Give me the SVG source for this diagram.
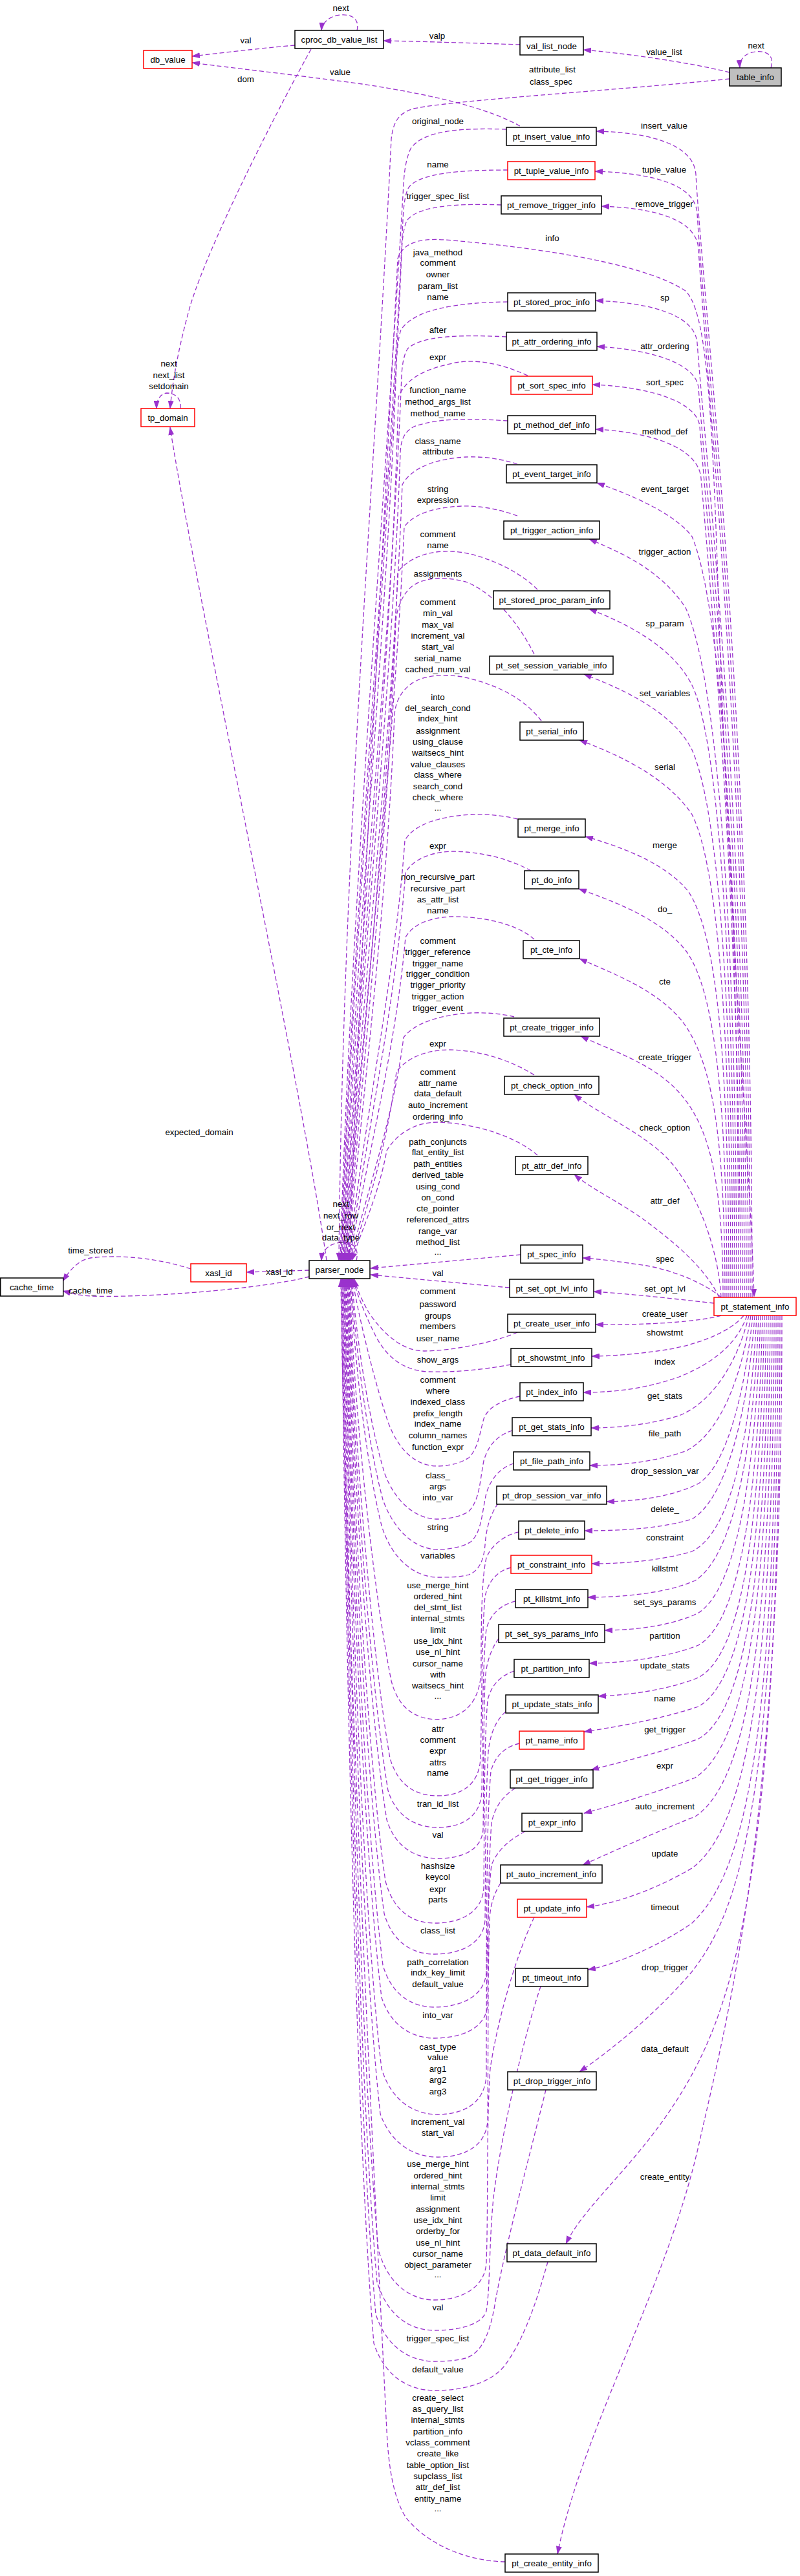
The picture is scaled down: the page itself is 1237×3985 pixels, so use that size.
<svg xmlns="http://www.w3.org/2000/svg" width="1237" height="3985" viewBox="0 0 1237 3985">
<style>
text{font-family:"Liberation Sans",Arial,Helvetica,sans-serif;font-size:13.33px;fill:#000}
.n text{text-anchor:middle}
.n rect{fill:#fff;stroke:#000;stroke-width:1.5}
.n.r rect{stroke:#ff0000}
.n.g rect{fill:#bfbfbf}
.e path{fill:none;stroke:#9a32cd;stroke-width:1.3;stroke-dasharray:7 4;marker-end:url(#a)}
.lb text{text-anchor:middle}
</style>
<defs>
<marker id="a" viewBox="0 0 13 9" refX="12" refY="4.5" markerWidth="13" markerHeight="9" markerUnits="userSpaceOnUse" orient="auto"><path d="M0,0L13,4.5L0,9z" fill="#9a32cd"/></marker>
</defs>
<rect width="1237" height="3985" fill="#fff"/>
<g class="e" id="edges">
<path d="M1192,105 C1198,85 1185,78 1168,80 C1152,82 1143,92 1144,105"/>
<path d="M1128,112 C1060,95 960,82 902,77"/>
<path d="M804,69 C740,67 650,64 593,63"/>
<path d="M552,47 C556,30 545,22 528,23 C510,24 498,35 497,47"/>
<path d="M456,70 C400,75 340,82 297,87"/>
<path d="M481,76 C440,150 330,360 295,470 C278,530 268,580 263,632"/>
<path d="M279,632 C281,618 272,608 258,608 C248,609 242,618 242,632"/>
<path d="M505,1950 C470,1700 300,900 263,661"/>
<path d="M551,1950 C556,1930 545,1922 530,1922 C512,1922 498,1932 497,1950"/>
<path d="M804,195 C760,170 680,148 560,130 C450,115 350,104 297,97"/>
<path d="M1128,122 C950,140 700,155 640,168 C615,175 608,190 605,215 C580,735 530,1300 524,1950"/>
<path d="M540,1950 C560,1400 600,700 615,400 C625,370 660,368 700,372 C850,385 1000,410 1060,450 C1090,480 1100,600 1110,900 C1125,1400 1160,1800 1166,2006"/>
<path d="M783,200 C720,198 655,200 635,230 C628,245 625,265 624,285 C600,700 540,1450 526,1950"/>
<path d="M785,263 C730,263 650,265 632,290 C626,300 624,320 623,340 C605,750 543,1450 527,1950"/>
<path d="M775,317 C720,315 650,316 630,340 C624,350 622,370 621,390 C605,800 545,1450 528,1950"/>
<path d="M785,467 C700,468 640,480 620,510 C615,525 614,545 613,560 C600,950 547,1500 529,1950"/>
<path d="M783,521 C720,518 650,518 630,540 C624,550 622,565 621,580 C605,1000 549,1500 530,1950"/>
<path d="M816,581 C770,560 730,555 700,562 C650,572 625,590 616,615 C605,1050 551,1550 531,1950"/>
<path d="M785,651 C740,648 680,645 640,660 C625,668 620,680 619,700 C605,1100 553,1550 532,1950"/>
<path d="M800,718 C770,708 740,706 720,707 C670,710 635,725 622,750 C607,1150 555,1580 533,1950"/>
<path d="M800,798 C770,787 740,782 713,783 C670,785 640,795 625,815 C608,1200 557,1600 534,1950"/>
<path d="M831,912 C800,880 740,855 700,853 C660,851 630,865 615,885 C600,1250 559,1620 535,1950"/>
<path d="M826,1012 C800,960 760,915 720,900 C690,892 660,892 640,905 C625,915 615,935 612,960 C600,1300 561,1650 536,1950"/>
<path d="M837,1115 C810,1080 770,1060 720,1048 C690,1042 660,1044 640,1055 C620,1068 612,1085 610,1105 C598,1400 563,1680 537,1950"/>
<path d="M800,1267 C780,1262 755,1259 728,1260 C680,1263 640,1275 626,1300 C612,1500 566,1720 538,1950"/>
<path d="M821,1347 C790,1330 750,1318 700,1317 C665,1318 638,1330 627,1350 C612,1550 568,1750 539,1950"/>
<path d="M826,1453 C800,1430 750,1418 700,1418 C665,1419 638,1430 627,1450 C612,1620 570,1780 540,1950"/>
<path d="M795,1573 C775,1568 750,1566 728,1567 C680,1570 640,1583 624,1605 C610,1720 572,1830 541,1950"/>
<path d="M826,1663 C790,1640 740,1624 692,1624 C655,1625 628,1638 613,1658 C600,1760 574,1850 542,1950"/>
<path d="M831,1787 C800,1760 740,1738 677,1736 C640,1736 613,1755 598,1780 C585,1850 560,1900 544,1950"/>
<path d="M805,1941 L573,1962"/>
<path d="M788,1992 L573,1972"/>
<path d="M800,2061 C770,2075 700,2090 656,2090 C620,2090 590,2060 570,2030 C560,2012 552,1995 548,1979"/>
<path d="M790,2111 C740,2120 700,2123 662,2122 C620,2120 595,2095 580,2065 C565,2035 553,2005 546,1979"/>
<path d="M804,2160 C780,2165 755,2175 748,2195 C742,2215 740,2240 725,2255 C710,2265 690,2268 677,2268 C640,2268 615,2240 600,2200 C580,2140 555,2040 545,1979"/>
<path d="M792,2213 C770,2220 755,2235 748,2260 C742,2290 742,2320 725,2338 C712,2347 690,2350 677,2350 C640,2350 610,2320 595,2280 C570,2200 550,2060 544,1979"/>
<path d="M794,2264 C775,2270 760,2285 752,2310 C745,2340 745,2370 728,2385 C715,2394 692,2397 677,2397 C640,2397 608,2365 592,2320 C568,2230 548,2070 543,1979"/>
<path d="M770,2326 C760,2340 752,2360 750,2390 C748,2415 740,2430 725,2436 C712,2440 692,2440 677,2440 C640,2440 605,2410 590,2360 C565,2260 546,2080 542,1979"/>
<path d="M802,2370 C780,2375 760,2390 752,2410 C745,2440 744,2500 744,2580 C744,2630 720,2658 677,2660 C640,2660 615,2640 605,2600 C575,2450 545,2150 541,1979"/>
<path d="M790,2425 C770,2430 755,2445 750,2470 C745,2520 745,2650 743,2720 C741,2760 715,2778 677,2778 C640,2778 615,2760 603,2720 C575,2560 545,2200 540,1979"/>
<path d="M797,2477 C775,2482 758,2497 752,2520 C746,2570 746,2700 745,2770 C744,2810 715,2827 677,2827 C640,2827 612,2808 600,2770 C572,2600 544,2220 539,1979"/>
<path d="M771,2535 C760,2550 752,2570 750,2600 C747,2680 748,2780 747,2830 C745,2862 715,2875 677,2875 C640,2875 610,2855 598,2815 C570,2640 543,2240 538,1979"/>
<path d="M795,2585 C775,2592 760,2605 754,2630 C748,2700 749,2850 748,2920 C746,2960 710,2975 672,2975 C636,2975 608,2955 596,2910 C568,2720 542,2260 537,1979"/>
<path d="M782,2648 C768,2660 758,2680 755,2710 C750,2800 751,2900 750,2970 C748,3008 710,3023 672,3023 C636,3023 606,3003 594,2960 C566,2760 541,2280 536,1979"/>
<path d="M803,2697 C782,2702 766,2715 759,2740 C752,2820 753,2960 752,3050 C750,3090 710,3105 672,3105 C636,3105 605,3085 592,3040 C564,2820 540,2300 535,1979"/>
<path d="M797,2766 C778,2778 765,2795 760,2820 C754,2900 755,3020 754,3100 C752,3140 710,3153 672,3153 C636,3153 604,3133 590,3090 C562,2860 539,2320 534,1979"/>
<path d="M812,2833 C790,2845 770,2860 760,2885 C752,2950 752,3100 752,3210 C750,3255 715,3271 677,3271 C640,3271 605,3250 590,3200 C560,2950 538,2340 533,1979"/>
<path d="M774,2913 C765,2928 758,2945 757,2970 C754,3050 755,3200 754,3280 C752,3322 715,3337 677,3337 C640,3337 604,3316 588,3270 C558,3000 537,2360 532,1979"/>
<path d="M826,2966 C800,3020 770,3120 758,3200 C752,3280 755,3420 752,3500 C750,3540 712,3558 672,3558 C636,3558 600,3535 585,3480 C555,3150 536,2380 531,1979"/>
<path d="M836,3073 C810,3150 775,3300 763,3400 C756,3470 758,3540 752,3575 C745,3598 705,3605 672,3605 C636,3605 600,3585 583,3530 C552,3180 535,2400 530,1979"/>
<path d="M844,3233 C820,3330 780,3480 766,3560 C758,3610 745,3640 720,3648 C705,3652 690,3653 672,3653 C636,3653 598,3633 581,3580 C550,3220 534,2420 529,1979"/>
<path d="M847,3499 C830,3560 810,3620 780,3660 C755,3690 710,3698 672,3698 C636,3698 596,3680 578,3625 C548,3260 533,2440 528,1979"/>
<path d="M781,3963 C720,3962 660,3935 628,3895 C605,3860 600,3800 598,3760 C575,3300 533,2460 527,1979"/>
<path d="M1163,2007 C1163,1100 1088,480 1076,270 C1073,225 1010,205 922,203"/>
<path d="M1160,2007 C1160,1150 1090,530 1078,330 C1075,285 1010,268 920,265"/>
<path d="M1157,2007 C1157,1200 1092,580 1080,385 C1077,340 1015,322 930,319"/>
<path d="M1154,2007 C1154,1250 1090,700 1078,530 C1074,485 1000,468 921,465"/>
<path d="M1151,2007 C1151,1300 1092,760 1080,600 C1076,560 1000,540 923,536"/>
<path d="M1148,2007 C1148,1350 1094,820 1082,660 C1078,620 1000,598 916,595"/>
<path d="M1145,2007 C1145,1400 1096,880 1084,740 C1080,690 1000,668 921,664"/>
<path d="M1142,2007 C1142,1400 1120,950 1070,830 C1040,790 960,760 923,747"/>
<path d="M1139,2007 C1139,1450 1110,1050 1060,940 C1020,880 960,855 911,834"/>
<path d="M1136,2007 C1136,1500 1110,1140 1070,1060 C1040,1000 970,965 911,942"/>
<path d="M1133,2007 C1133,1550 1110,1250 1070,1160 C1040,1100 960,1065 903,1043"/>
<path d="M1130,2007 C1130,1600 1110,1340 1070,1260 C1030,1200 950,1165 896,1145"/>
<path d="M1127,2007 C1127,1650 1110,1450 1065,1380 C1030,1335 960,1310 905,1294"/>
<path d="M1124,2007 C1124,1700 1105,1530 1060,1470 C1020,1420 950,1395 895,1375"/>
<path d="M1121,2007 C1121,1750 1100,1640 1055,1580 C1015,1530 945,1505 896,1483"/>
<path d="M1118,2007 C1118,1820 1095,1740 1050,1690 C1010,1645 945,1625 898,1603"/>
<path d="M1115,2007 C1110,1920 1070,1830 1030,1790 C990,1750 920,1720 888,1693"/>
<path d="M1112,2007 C1090,1960 1040,1920 1000,1890 C960,1860 915,1840 888,1817"/>
<path d="M1115,2007 C1090,1985 1040,1965 1000,1958 C960,1952 930,1948 901,1946"/>
<path d="M1104,2016 C1050,2010 980,2002 918,1998"/>
<path d="M1115,2035 C1080,2045 1000,2050 921,2049"/>
<path d="M1150,2035 C1130,2060 1080,2080 1030,2088 C990,2094 950,2098 915,2098"/>
<path d="M1155,2035 C1140,2080 1100,2110 1050,2130 C1000,2148 950,2154 902,2154"/>
<path d="M1158,2035 C1140,2110 1100,2170 1050,2190 C1000,2205 950,2209 914,2209"/>
<path d="M1161,2035 C1145,2140 1110,2220 1060,2245 C1010,2262 960,2267 912,2267"/>
<path d="M1164,2035 C1150,2170 1120,2270 1080,2295 C1040,2315 990,2322 938,2323"/>
<path d="M1167,2035 C1155,2200 1120,2320 1070,2350 C1020,2365 960,2368 904,2368"/>
<path d="M1170,2035 C1160,2230 1130,2370 1070,2400 C1020,2415 960,2419 915,2419"/>
<path d="M1173,2035 C1165,2260 1130,2410 1075,2445 C1030,2465 960,2471 909,2471"/>
<path d="M1176,2035 C1168,2300 1135,2460 1080,2495 C1040,2515 980,2522 935,2522"/>
<path d="M1179,2035 C1172,2340 1140,2510 1080,2545 C1030,2565 960,2573 911,2573"/>
<path d="M1182,2035 C1175,2380 1145,2560 1080,2595 C1040,2612 980,2622 925,2624"/>
<path d="M1185,2035 C1180,2400 1150,2600 1080,2640 C1020,2660 950,2672 903,2679"/>
<path d="M1188,2035 C1184,2450 1150,2650 1080,2690 C1010,2715 950,2728 914,2738"/>
<path d="M1191,2035 C1188,2500 1150,2700 1075,2750 C1010,2775 940,2795 903,2805"/>
<path d="M1194,2035 C1192,2560 1150,2760 1075,2810 C1000,2840 935,2870 901,2885"/>
<path d="M1197,2035 C1196,2620 1150,2830 1070,2890 C1010,2925 950,2945 907,2950"/>
<path d="M1200,2035 C1200,2700 1150,2900 1070,2975 C1020,3010 950,3040 909,3047"/>
<path d="M1203,2035 C1203,2800 1140,2960 1070,3050 C1010,3120 940,3175 896,3205"/>
<path d="M1206,2035 C1206,2800 1150,3050 1080,3190 C1010,3330 910,3400 875,3471"/>
<path d="M1209,2035 C1209,2800 1130,3100 1080,3320 C1030,3540 900,3760 862,3951"/>
<path d="M478,1965 C450,1966 420,1967 381,1968"/>
<path d="M295,1963 C250,1948 190,1940 140,1946 C120,1950 108,1965 97,1982"/>
<path d="M478,1975 C400,1995 220,2008 140,2005 C120,2004 108,2000 97,1997"/>
</g>
<g class="lb" id="labels">
<text x="527" y="17">next</text>
<text x="380" y="67">val</text>
<text x="380" y="127">dom</text>
<text x="676" y="60">valp</text>
<text x="1027" y="85">value_list</text>
<text x="1169" y="75">next</text>
<text x="526" y="116">value</text>
<text x="854" y="112">attribute_list</text>
<text x="852" y="131">class_spec</text>
<text x="854" y="373">info</text>
<text x="261" y="567">next</text>
<text x="261" y="585">next_list</text>
<text x="261" y="602">setdomain</text>
<text x="308" y="1756">expected_domain</text>
<text x="527" y="1867">next</text>
<text x="527" y="1885">next_row</text>
<text x="527" y="1903">or_next</text>
<text x="527" y="1919">data_type</text>
<text x="432" y="1972">xasl_id</text>
<text x="140" y="1939">time_stored</text>
<text x="140" y="2001">cache_time</text>
<text x="677" y="192">original_node</text>
<text x="677" y="259">name</text>
<text x="677" y="308">trigger_spec_list</text>
<text x="677" y="395">java_method</text>
<text x="677" y="411">comment</text>
<text x="677" y="429">owner</text>
<text x="677" y="447">param_list</text>
<text x="677" y="464">name</text>
<text x="677" y="515">after</text>
<text x="677" y="557">expr</text>
<text x="677" y="608">function_name</text>
<text x="677" y="626">method_args_list</text>
<text x="677" y="644">method_name</text>
<text x="677" y="687">class_name</text>
<text x="677" y="703">attribute</text>
<text x="677" y="761">string</text>
<text x="677" y="778">expression</text>
<text x="677" y="831">comment</text>
<text x="677" y="848">name</text>
<text x="677" y="892">assignments</text>
<text x="677" y="936">comment</text>
<text x="677" y="953">min_val</text>
<text x="677" y="971">max_val</text>
<text x="677" y="988">increment_val</text>
<text x="677" y="1005">start_val</text>
<text x="677" y="1023">serial_name</text>
<text x="677" y="1040">cached_num_val</text>
<text x="677" y="1083">into</text>
<text x="677" y="1100">del_search_cond</text>
<text x="677" y="1116">index_hint</text>
<text x="677" y="1135">assignment</text>
<text x="677" y="1152">using_clause</text>
<text x="677" y="1169">waitsecs_hint</text>
<text x="677" y="1187">value_clauses</text>
<text x="677" y="1203">class_where</text>
<text x="677" y="1221">search_cond</text>
<text x="677" y="1238">check_where</text>
<text x="677" y="1254">...</text>
<text x="677" y="1313">expr</text>
<text x="677" y="1361">non_recursive_part</text>
<text x="677" y="1379">recursive_part</text>
<text x="677" y="1396">as_attr_list</text>
<text x="677" y="1413">name</text>
<text x="677" y="1460">comment</text>
<text x="677" y="1477">trigger_reference</text>
<text x="677" y="1495">trigger_name</text>
<text x="677" y="1511">trigger_condition</text>
<text x="677" y="1528">trigger_priority</text>
<text x="677" y="1546">trigger_action</text>
<text x="677" y="1564">trigger_event</text>
<text x="677" y="1619">expr</text>
<text x="677" y="1663">comment</text>
<text x="677" y="1680">attr_name</text>
<text x="677" y="1696">data_default</text>
<text x="677" y="1714">auto_increment</text>
<text x="677" y="1732">ordering_info</text>
<text x="677" y="1771">path_conjuncts</text>
<text x="677" y="1787">flat_entity_list</text>
<text x="677" y="1805">path_entities</text>
<text x="677" y="1822">derived_table</text>
<text x="677" y="1840">using_cond</text>
<text x="677" y="1857">on_cond</text>
<text x="677" y="1874">cte_pointer</text>
<text x="677" y="1891">referenced_attrs</text>
<text x="677" y="1909">range_var</text>
<text x="677" y="1926">method_list</text>
<text x="677" y="1941">...</text>
<text x="677" y="1974">val</text>
<text x="677" y="2002">comment</text>
<text x="677" y="2022">password</text>
<text x="677" y="2040">groups</text>
<text x="677" y="2056">members</text>
<text x="677" y="2075">user_name</text>
<text x="677" y="2108">show_args</text>
<text x="677" y="2139">comment</text>
<text x="677" y="2156">where</text>
<text x="677" y="2173">indexed_class</text>
<text x="677" y="2191">prefix_length</text>
<text x="677" y="2207">index_name</text>
<text x="677" y="2225">column_names</text>
<text x="677" y="2243">function_expr</text>
<text x="677" y="2287">class_</text>
<text x="677" y="2304">args</text>
<text x="677" y="2321">into_var</text>
<text x="677" y="2367">string</text>
<text x="677" y="2411">variables</text>
<text x="677" y="2457">use_merge_hint</text>
<text x="677" y="2474">ordered_hint</text>
<text x="677" y="2491">del_stmt_list</text>
<text x="677" y="2508">internal_stmts</text>
<text x="677" y="2526">limit</text>
<text x="677" y="2543">use_idx_hint</text>
<text x="677" y="2560">use_nl_hint</text>
<text x="677" y="2578">cursor_name</text>
<text x="677" y="2595">with</text>
<text x="677" y="2612">waitsecs_hint</text>
<text x="677" y="2628">...</text>
<text x="677" y="2679">attr</text>
<text x="677" y="2696">comment</text>
<text x="677" y="2713">expr</text>
<text x="677" y="2731">attrs</text>
<text x="677" y="2747">name</text>
<text x="677" y="2795">tran_id_list</text>
<text x="677" y="2843">val</text>
<text x="677" y="2891">hashsize</text>
<text x="677" y="2908">keycol</text>
<text x="677" y="2927">expr</text>
<text x="677" y="2943">parts</text>
<text x="677" y="2991">class_list</text>
<text x="677" y="3040">path_correlation</text>
<text x="677" y="3056">indx_key_limit</text>
<text x="677" y="3074">default_value</text>
<text x="677" y="3122">into_var</text>
<text x="677" y="3171">cast_type</text>
<text x="677" y="3187">value</text>
<text x="677" y="3205">arg1</text>
<text x="677" y="3222">arg2</text>
<text x="677" y="3240">arg3</text>
<text x="677" y="3287">increment_val</text>
<text x="677" y="3304">start_val</text>
<text x="677" y="3352">use_merge_hint</text>
<text x="677" y="3370">ordered_hint</text>
<text x="677" y="3387">internal_stmts</text>
<text x="677" y="3404">limit</text>
<text x="677" y="3422">assignment</text>
<text x="677" y="3439">use_idx_hint</text>
<text x="677" y="3456">orderby_for</text>
<text x="677" y="3474">use_nl_hint</text>
<text x="677" y="3491">cursor_name</text>
<text x="677" y="3508">object_parameter</text>
<text x="677" y="3523">...</text>
<text x="677" y="3574">val</text>
<text x="677" y="3622">trigger_spec_list</text>
<text x="677" y="3670">default_value</text>
<text x="677" y="3714">create_select</text>
<text x="677" y="3731">as_query_list</text>
<text x="677" y="3748">internal_stmts</text>
<text x="677" y="3766">partition_info</text>
<text x="677" y="3783">vclass_comment</text>
<text x="677" y="3800">create_like</text>
<text x="677" y="3818">table_option_list</text>
<text x="677" y="3835">supclass_list</text>
<text x="677" y="3852">attr_def_list</text>
<text x="677" y="3870">entity_name</text>
<text x="677" y="3885">...</text>
<text x="1027" y="199">insert_value</text>
<text x="1027" y="267">tuple_value</text>
<text x="1027" y="320">remove_trigger</text>
<text x="1028" y="465">sp</text>
<text x="1028" y="540">attr_ordering</text>
<text x="1028" y="596">sort_spec</text>
<text x="1028" y="672">method_def</text>
<text x="1028" y="761">event_target</text>
<text x="1028" y="858">trigger_action</text>
<text x="1028" y="969">sp_param</text>
<text x="1028" y="1077">set_variables</text>
<text x="1028" y="1191">serial</text>
<text x="1028" y="1312">merge</text>
<text x="1028" y="1411">do_</text>
<text x="1028" y="1523">cte</text>
<text x="1028" y="1640">create_trigger</text>
<text x="1028" y="1749">check_option</text>
<text x="1028" y="1862">attr_def</text>
<text x="1028" y="1952">spec</text>
<text x="1028" y="1998">set_opt_lvl</text>
<text x="1028" y="2037">create_user</text>
<text x="1028" y="2066">showstmt</text>
<text x="1028" y="2111">index</text>
<text x="1028" y="2164">get_stats</text>
<text x="1028" y="2222">file_path</text>
<text x="1028" y="2280">drop_session_var</text>
<text x="1028" y="2339">delete_</text>
<text x="1028" y="2383">constraint</text>
<text x="1028" y="2431">killstmt</text>
<text x="1028" y="2483">set_sys_params</text>
<text x="1028" y="2535">partition</text>
<text x="1028" y="2581">update_stats</text>
<text x="1028" y="2632">name</text>
<text x="1028" y="2680">get_trigger</text>
<text x="1028" y="2736">expr</text>
<text x="1028" y="2799">auto_increment</text>
<text x="1028" y="2872">update</text>
<text x="1028" y="2955">timeout</text>
<text x="1028" y="3048">drop_trigger</text>
<text x="1028" y="3174">data_default</text>
<text x="1028" y="3372">create_entity</text>
</g>
<g id="table_info" class="n g"><rect x="1128" y="105" width="80" height="28"/><text x="1168" y="123.7">table_info</text></g>
<g id="val_list_node" class="n"><rect x="804" y="57" width="98" height="28"/><text x="853" y="75.7">val_list_node</text></g>
<g id="cproc_db_value_list" class="n"><rect x="456" y="47" width="137" height="28"/><text x="524.5" y="65.7">cproc_db_value_list</text></g>
<g id="db_value" class="n r"><rect x="222" y="78" width="75" height="28"/><text x="259.5" y="96.7">db_value</text></g>
<g id="tp_domain" class="n r"><rect x="218" y="632" width="83" height="28"/><text x="259.5" y="650.7">tp_domain</text></g>
<g id="parser_node" class="n"><rect x="478" y="1950" width="94" height="28"/><text x="525" y="1968.7">parser_node</text></g>
<g id="xasl_id" class="n r"><rect x="295" y="1955" width="86" height="28"/><text x="338" y="1973.7">xasl_id</text></g>
<g id="cache_time" class="n"><rect x="0.75" y="1977" width="97" height="28"/><text x="49" y="1995.7">cache_time</text></g>
<g id="pt_statement_info" class="n r"><rect x="1104" y="2007" width="127" height="28"/><text x="1167.5" y="2025.7">pt_statement_info</text></g>
<g id="pt_insert_value_info" class="n"><rect x="783" y="197" width="139" height="28"/><text x="852.5" y="215.7">pt_insert_value_info</text></g>
<g id="pt_tuple_value_info" class="n r"><rect x="785" y="250" width="135" height="28"/><text x="852.5" y="268.7">pt_tuple_value_info</text></g>
<g id="pt_remove_trigger_info" class="n"><rect x="775" y="303" width="155" height="28"/><text x="852.5" y="321.7">pt_remove_trigger_info</text></g>
<g id="pt_stored_proc_info" class="n"><rect x="785" y="453" width="136" height="28"/><text x="853" y="471.7">pt_stored_proc_info</text></g>
<g id="pt_attr_ordering_info" class="n"><rect x="783" y="514" width="140" height="28"/><text x="853" y="532.7">pt_attr_ordering_info</text></g>
<g id="pt_sort_spec_info" class="n r"><rect x="790" y="582" width="126" height="28"/><text x="853" y="600.7">pt_sort_spec_info</text></g>
<g id="pt_method_def_info" class="n"><rect x="785" y="643" width="136" height="28"/><text x="853" y="661.7">pt_method_def_info</text></g>
<g id="pt_event_target_info" class="n"><rect x="783" y="719" width="140" height="28"/><text x="853" y="737.7">pt_event_target_info</text></g>
<g id="pt_trigger_action_info" class="n"><rect x="779" y="806" width="148" height="28"/><text x="853" y="824.7">pt_trigger_action_info</text></g>
<g id="pt_stored_proc_param_info" class="n"><rect x="763" y="914" width="180" height="28"/><text x="853" y="932.7">pt_stored_proc_param_info</text></g>
<g id="pt_set_session_variable_info" class="n"><rect x="757" y="1015" width="191" height="28"/><text x="852.5" y="1033.7">pt_set_session_variable_info</text></g>
<g id="pt_serial_info" class="n"><rect x="804" y="1117" width="98" height="28"/><text x="853" y="1135.7">pt_serial_info</text></g>
<g id="pt_merge_info" class="n"><rect x="801" y="1267" width="104" height="28"/><text x="853" y="1285.7">pt_merge_info</text></g>
<g id="pt_do_info" class="n"><rect x="811" y="1347" width="84" height="28"/><text x="853" y="1365.7">pt_do_info</text></g>
<g id="pt_cte_info" class="n"><rect x="809" y="1455" width="87" height="28"/><text x="852.5" y="1473.7">pt_cte_info</text></g>
<g id="pt_create_trigger_info" class="n"><rect x="779" y="1575" width="148" height="28"/><text x="853" y="1593.7">pt_create_trigger_info</text></g>
<g id="pt_check_option_info" class="n"><rect x="780" y="1665" width="146" height="28"/><text x="853" y="1683.7">pt_check_option_info</text></g>
<g id="pt_attr_def_info" class="n"><rect x="797" y="1789" width="112" height="28"/><text x="853" y="1807.7">pt_attr_def_info</text></g>
<g id="pt_spec_info" class="n"><rect x="805" y="1926" width="96" height="28"/><text x="853" y="1944.7">pt_spec_info</text></g>
<g id="pt_set_opt_lvl_info" class="n"><rect x="788" y="1979" width="130" height="28"/><text x="853" y="1997.7">pt_set_opt_lvl_info</text></g>
<g id="pt_create_user_info" class="n"><rect x="785" y="2033" width="136" height="28"/><text x="853" y="2051.7">pt_create_user_info</text></g>
<g id="pt_showstmt_info" class="n"><rect x="790" y="2086" width="125" height="28"/><text x="852.5" y="2104.7">pt_showstmt_info</text></g>
<g id="pt_index_info" class="n"><rect x="804" y="2139" width="98" height="28"/><text x="853" y="2157.7">pt_index_info</text></g>
<g id="pt_get_stats_info" class="n"><rect x="792" y="2193" width="122" height="28"/><text x="853" y="2211.7">pt_get_stats_info</text></g>
<g id="pt_file_path_info" class="n"><rect x="794" y="2246" width="118" height="28"/><text x="853" y="2264.7">pt_file_path_info</text></g>
<g id="pt_drop_session_var_info" class="n"><rect x="768" y="2299" width="170" height="28"/><text x="853" y="2317.7">pt_drop_session_var_info</text></g>
<g id="pt_delete_info" class="n"><rect x="802" y="2353" width="102" height="28"/><text x="853" y="2371.7">pt_delete_info</text></g>
<g id="pt_constraint_info" class="n r"><rect x="790" y="2406" width="125" height="28"/><text x="852.5" y="2424.7">pt_constraint_info</text></g>
<g id="pt_killstmt_info" class="n"><rect x="797" y="2459" width="112" height="28"/><text x="853" y="2477.7">pt_killstmt_info</text></g>
<g id="pt_set_sys_params_info" class="n"><rect x="771" y="2513" width="164" height="28"/><text x="853" y="2531.7">pt_set_sys_params_info</text></g>
<g id="pt_partition_info" class="n"><rect x="795" y="2567" width="116" height="28"/><text x="853" y="2585.7">pt_partition_info</text></g>
<g id="pt_update_stats_info" class="n"><rect x="782" y="2622" width="143" height="28"/><text x="853.5" y="2640.7">pt_update_stats_info</text></g>
<g id="pt_name_info" class="n r"><rect x="803" y="2678" width="100" height="28"/><text x="853" y="2696.7">pt_name_info</text></g>
<g id="pt_get_trigger_info" class="n"><rect x="789" y="2738" width="128" height="28"/><text x="853" y="2756.7">pt_get_trigger_info</text></g>
<g id="pt_expr_info" class="n"><rect x="807" y="2805" width="93" height="28"/><text x="853.5" y="2823.7">pt_expr_info</text></g>
<g id="pt_auto_increment_info" class="n"><rect x="774" y="2885" width="157" height="28"/><text x="852.5" y="2903.7">pt_auto_increment_info</text></g>
<g id="pt_update_info" class="n r"><rect x="800" y="2938" width="107" height="28"/><text x="853.5" y="2956.7">pt_update_info</text></g>
<g id="pt_timeout_info" class="n"><rect x="797" y="3045" width="112" height="28"/><text x="853" y="3063.7">pt_timeout_info</text></g>
<g id="pt_drop_trigger_info" class="n"><rect x="785" y="3205" width="137" height="28"/><text x="853.5" y="3223.7">pt_drop_trigger_info</text></g>
<g id="pt_data_default_info" class="n"><rect x="784" y="3471" width="138" height="28"/><text x="853" y="3489.7">pt_data_default_info</text></g>
<g id="pt_create_entity_info" class="n"><rect x="781" y="3951" width="144" height="28"/><text x="853" y="3969.7">pt_create_entity_info</text></g>
</svg>
